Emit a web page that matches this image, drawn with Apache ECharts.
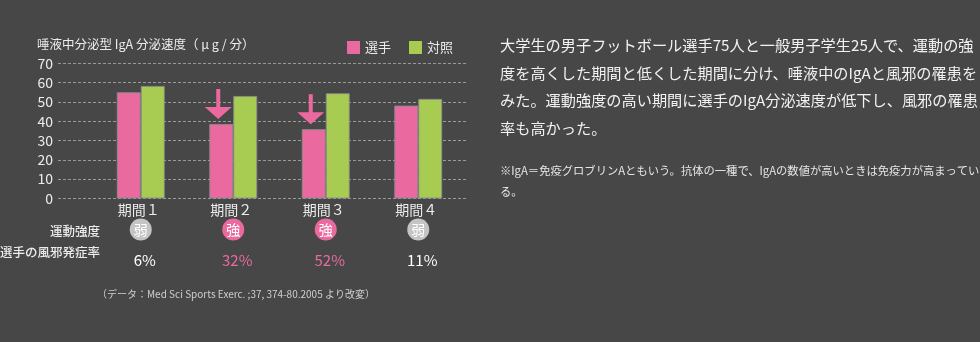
<!DOCTYPE html>
<html>
<head>
<meta charset="utf-8">
<script src="https://cdn.jsdelivr.net/npm/echarts@6/dist/echarts.min.js"></script>
<style>
html,body{margin:0;padding:0;background:#474747;}
#c{width:980px;height:342px;}
</style>
</head>
<body>
<div id="c"></div>
<script>
const categories = ['期間１', '期間２', '期間３', '期間４'];
const athletes = [55.0, 38.6, 35.9, 48.1];
const controls = [58.3, 53.1, 54.5, 51.6];
const intensity = ['弱', '強', '強', '弱'];
const coldRates = ['6%', '32%', '52%', '11%'];
const yMin = 0, yMax = 70, yStep = 10;
const seriesNames = ['選手', '対照'];
const titleText = '唾液中分泌型 IgA 分泌速度（ μ g / 分）';
const rowLabels = ['運動強度', '選手の風邪発症率'];
const sourceText = '（データ：Med Sci Sports Exerc. ;37, 374-80.2005 より改変）';
const bodyLines = [
  '大学生の男子フットボール選手75人と一般男子学生25人で、運動の強',
  '度を高くした期間と低くした期間に分け、唾液中のIgAと風邪の罹患を',
  'みた。運動強度の高い期間に選手のIgA分泌速度が低下し、風邪の罹患',
  '率も高かった。'
];
const noteLines = [
  '※IgA＝免疫グロブリンAともいう。抗体の一種で、IgAの数値が高いときは免疫力が高まってい',
  'る。'
];

const PINK = '#ea6aa0', GREEN = '#a8cc52', FONT = '"Noto Sans CJK JP","Noto Sans",sans-serif';
const TXT = '#ececec';

const chart = echarts.init(document.getElementById('c'));
const arrowPath = 'path://M11.5,0 H15.5 V18 H27 L13.5,30 L0,18 H11.5 Z';

const graphics = [];
graphics.push({type:'text', right: 980-100, top: 225, style:{text: rowLabels[0], fill: TXT, font: '500 12.5px ' + FONT, textAlign:'right'}});
graphics.push({type:'text', right: 980-100, top: 246, style:{text: rowLabels[1], fill: TXT, font: '500 12.5px ' + FONT, textAlign:'right'}});
graphics.push({type:'text', left: 97, top: 289, style:{text: sourceText, fill: '#cfcfcf', font: '10px ' + FONT}});
bodyLines.forEach((t, i) => graphics.push({type:'text', left: 500, top: 38 + i*27.4, style:{text: t, fill: '#f2f2f2', font: '15.2px ' + FONT}}));
noteLines.forEach((t, i) => graphics.push({type:'text', left: 500, top: 165 + i*21, style:{text: t, fill: '#e6e6e6', font: '11.3px ' + FONT}}));

chart.setOption({
  animation: false,
  backgroundColor: '#474747',
  textStyle: {fontFamily: FONT},
  title: {text: titleText, left: 37, top: 38, padding: 0,
    textStyle: {color: TXT, fontSize: 12.5, fontWeight: 'normal', fontFamily: FONT}},
  legend: {data: seriesNames, left: 347, top: 41, padding: 0, itemWidth: 13, itemHeight: 13, itemGap: 18,
    icon: 'rect', itemStyle: {borderWidth: 0},
    textStyle: {color: TXT, fontSize: 13, fontFamily: FONT}},
  grid: [
    {left: 58, top: 63.3, width: 410, height: 135.2},
    {left: 94.5, top: 63.3, width: 370, height: 135.2}
  ],
  xAxis: [
    {gridIndex: 0, type: 'category', data: categories, show: false},
    {gridIndex: 1, type: 'category', data: categories,
      axisLine: {show: false}, axisTick: {show: false},
      axisLabel: {margin: 2, interval: 0,
        formatter: (v, i) => {
          const strong = intensity[i] === '強';
          return '{p|' + v + '}\n{' + (strong ? 's' : 'w') + '|' + intensity[i] + '}\n{' + (strong ? 'rp' : 'rw') + '|' + coldRates[i] + '}';
        },
        rich: {
          p: {color: TXT, fontSize: 14, lineHeight: 18, padding: [0, 4, 0, 0], fontFamily: FONT},
          w: {color: '#fff', backgroundColor: '#c4c4c4', width: 22, height: 22, lineHeight: 22, borderRadius: 11, align: 'center', fontSize: 14, fontFamily: FONT},
          s: {color: '#fff', backgroundColor: PINK, width: 22, height: 22, lineHeight: 22, borderRadius: 11, align: 'center', fontSize: 14, fontFamily: FONT},
          rw: {color: '#ffffff', fontSize: 15, lineHeight: 39, padding: [0, 0, 0, 8], fontFamily: FONT},
          rp: {color: PINK, fontSize: 15, lineHeight: 39, padding: [0, 0, 0, 8], fontFamily: FONT}
        }
      }}
  ],
  yAxis: [
    {gridIndex: 0, type: 'value', min: yMin, max: yMax, interval: yStep,
      axisLine: {show: false}, axisTick: {show: false},
      axisLabel: {color: TXT, fontSize: 14, margin: 5, fontFamily: FONT},
      splitLine: {show: true, lineStyle: {color: '#9a9a9a', type: [3, 2], width: 1}}},
    {gridIndex: 1, type: 'value', min: yMin, max: yMax, interval: yStep, show: false, splitLine: {show: false}}
  ],
  series: [
    {name: seriesNames[0], type: 'bar', xAxisIndex: 1, yAxisIndex: 1, data: athletes, barWidth: 24, barGap: '0%',
      itemStyle: {color: PINK, borderColor: 'rgba(140,140,140,0.9)', borderWidth: 1},
      markPoint: {symbol: arrowPath, symbolSize: [27, 30], symbolKeepAspect: false, symbolOffset: [-3, -20],
        label: {show: false}, itemStyle: {color: PINK},
        data: athletes.map((v, i) => intensity[i] === '強' ? {coord: [i, v]} : null).filter(d => d)}},
    {name: seriesNames[1], type: 'bar', xAxisIndex: 1, yAxisIndex: 1, data: controls, barWidth: 24, barGap: '0%',
      itemStyle: {color: GREEN, borderColor: 'rgba(140,140,140,0.9)', borderWidth: 1}}
  ],
  graphic: graphics
});
</script>
</body>
</html>
